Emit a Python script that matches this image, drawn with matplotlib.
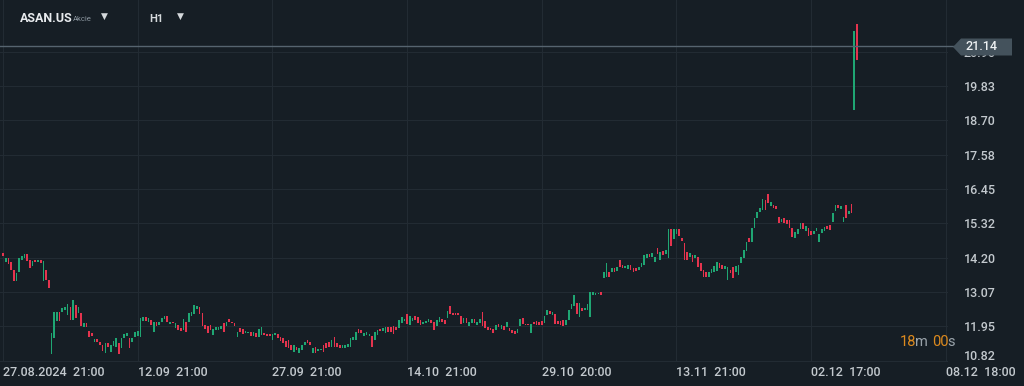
import numpy as np
import matplotlib
matplotlib.use("Agg")
import matplotlib.pyplot as plt
from matplotlib.patches import Polygon

# ASAN.US, H1 candles (open / close)
opens = [
    14.35, 14.05, 14.19, 14.05, 13.79, 13.43, 13.72, 14.12, 14.19, 14.32,
    14.12, 13.92, 14.12, 14.05, 14.12, 13.42, 13.79, 13.46, 11.04, 11.57,
    12.12, 12.42, 12.42, 12.48, 12.32, 12.58, 12.15, 12.64, 12.37, 12.38,
    11.92, 12.05, 11.79, 11.72, 11.42, 11.54, 11.43, 11.33, 11.07, 11.40,
    11.10, 11.30, 11.27, 11.40, 11.22, 11.56, 11.62, 11.56, 11.42, 11.60,
    11.63, 11.60, 12.12, 12.25, 12.10, 12.15, 11.74, 12.07, 11.97, 12.09,
    12.17, 12.28, 12.02, 12.09, 11.89, 11.99, 11.88, 11.82, 12.09, 12.09,
    12.27, 12.35, 12.52, 12.58, 12.38, 11.99, 11.96, 11.99, 11.66, 11.82,
    11.82, 11.86, 12.05, 11.96, 12.17, 12.10, 12.05, 11.60, 11.89, 11.86,
    11.72, 11.72, 11.76, 11.62, 11.72, 11.60, 11.66, 11.72, 11.70, 11.70,
    11.50, 11.67, 11.69, 11.60, 11.56, 11.47, 11.50, 11.33, 11.10, 11.27,
    11.07, 11.17, 11.32, 11.50, 11.42, 11.07, 11.27, 11.14, 11.17, 11.33,
    11.40, 11.43, 11.27, 11.60, 11.40, 11.33, 11.22, 11.24, 11.27, 11.27,
    11.50, 11.50, 11.86, 11.82, 11.62, 11.66, 11.63, 11.63, 11.50, 11.66,
    11.86, 11.79, 11.72, 11.92, 11.92, 11.96, 11.92, 11.89, 12.05, 12.12,
    12.35, 11.99, 12.12, 12.28, 12.25, 12.15, 12.02, 12.05, 12.09, 12.15,
    12.09, 11.96, 12.09, 12.19, 12.15, 12.22, 12.61, 12.38, 12.38, 12.38,
    12.28, 12.05, 12.22, 11.96, 12.05, 12.17, 11.99, 12.05, 12.42, 12.12,
    11.92, 11.89, 11.86, 11.83, 12.02, 11.87, 11.96, 11.92, 11.89, 11.82,
    11.79, 11.72, 11.96, 12.22, 12.02, 12.02, 11.72, 12.10, 12.12, 12.07,
    12.12, 12.05, 12.32, 12.45, 12.32, 12.35, 12.12, 12.12, 12.15, 11.97,
    12.15, 12.52, 12.62, 12.72, 12.25, 12.55, 12.48, 12.47, 12.25, 12.97,
    12.97, 13.00, 13.07, 13.53, 13.56, 13.72, 13.73, 13.84, 13.76, 14.12,
    13.96, 13.84, 13.82, 13.96, 13.86, 13.86, 13.79, 13.89, 13.96, 14.17,
    14.32, 14.22, 14.05, 14.51, 14.12, 14.42, 14.32, 14.19, 15.12, 14.82,
    14.97, 15.12, 14.84, 14.68, 14.38, 14.22, 14.28, 14.17, 14.22, 14.02,
    13.79, 13.72, 13.56, 13.69, 13.72, 13.76, 14.02, 13.97, 13.82, 13.46,
    13.79, 13.89, 13.72, 13.64, 14.02, 14.19, 14.42, 14.84, 14.71, 15.17,
    15.50, 15.69, 15.76, 16.09, 16.28, 15.90, 15.92, 15.90, 15.53, 15.37,
    15.50, 15.42, 15.42, 15.17, 14.84, 14.97, 15.12, 15.33, 15.07, 15.17,
    15.07, 14.97, 15.07, 14.71, 15.02, 15.07, 15.24, 15.27, 15.37, 15.72,
    15.92, 15.80, 15.37, 15.92, 15.62, 15.96, 19.04, 21.86,
]
closes = [
    14.25, 14.19, 13.99, 13.79, 13.43, 13.69, 14.17, 14.25, 14.32, 14.07,
    13.87, 14.09, 14.05, 14.12, 14.02, 14.07, 13.46, 13.20, 11.72, 12.42,
    12.40, 12.12, 12.55, 12.58, 12.67, 12.15, 12.81, 12.22, 12.58, 11.96,
    12.05, 11.92, 11.60, 11.62, 11.54, 11.42, 11.34, 11.12, 11.40, 11.27,
    11.33, 11.47, 11.56, 11.02, 11.56, 11.69, 11.72, 11.24, 11.57, 11.76,
    11.78, 12.22, 12.25, 12.12, 12.22, 11.99, 12.07, 11.96, 12.09, 12.22,
    12.28, 12.09, 12.09, 12.05, 12.05, 11.83, 11.79, 12.19, 11.76, 12.38,
    12.40, 12.64, 12.62, 12.35, 11.96, 11.86, 11.73, 11.83, 11.86, 11.92,
    11.92, 11.96, 11.76, 12.09, 12.09, 12.05, 11.94, 11.76, 11.74, 11.70,
    11.79, 11.76, 11.61, 11.76, 11.60, 11.86, 11.92, 11.67, 11.64, 11.62,
    11.69, 11.72, 11.56, 11.45, 11.40, 11.27, 11.24, 11.17, 11.33, 11.17,
    11.24, 11.33, 11.43, 11.40, 11.32, 11.24, 11.07, 11.20, 11.20, 11.10,
    11.24, 11.27, 11.50, 11.27, 11.27, 11.22, 11.33, 11.32, 11.37, 11.56,
    11.60, 11.76, 11.73, 11.72, 11.72, 11.76, 11.70, 11.27, 11.76, 11.83,
    11.79, 11.89, 11.92, 11.76, 11.76, 11.70, 11.82, 12.15, 12.25, 12.19,
    12.02, 12.28, 12.22, 12.15, 12.05, 11.99, 12.09, 12.12, 12.19, 12.05,
    11.83, 12.15, 12.25, 12.09, 12.02, 12.45, 12.35, 12.32, 12.32, 12.32,
    12.02, 12.22, 12.05, 12.10, 12.17, 12.05, 12.09, 12.17, 11.96, 11.89,
    11.83, 11.82, 11.73, 11.99, 11.92, 11.99, 11.83, 12.09, 11.79, 11.72,
    11.69, 11.84, 12.19, 12.02, 11.99, 11.97, 12.02, 12.02, 11.97, 11.99,
    11.99, 12.28, 12.48, 12.35, 12.42, 12.02, 12.02, 11.99, 11.96, 12.15,
    12.48, 12.68, 12.97, 12.35, 12.72, 12.45, 12.55, 12.67, 13.07, 13.07,
    13.04, 13.04, 12.97, 13.73, 14.02, 13.56, 13.86, 13.74, 13.89, 13.89,
    13.84, 13.92, 13.94, 13.79, 13.73, 13.76, 13.89, 14.02, 14.28, 14.32,
    14.22, 14.35, 14.22, 14.32, 14.38, 14.27, 14.45, 15.12, 14.58, 15.14,
    15.14, 14.92, 14.74, 14.12, 14.12, 14.35, 14.05, 14.28, 13.89, 13.76,
    13.56, 13.56, 13.72, 13.82, 13.92, 14.05, 13.86, 13.82, 13.92, 13.89,
    13.69, 13.53, 13.92, 13.96, 14.22, 14.45, 14.72, 14.72, 15.17, 15.50,
    15.69, 15.82, 16.12, 15.76, 15.99, 16.02, 15.83, 15.79, 15.33, 15.47,
    15.33, 15.30, 15.17, 14.87, 15.04, 15.12, 15.33, 15.14, 15.22, 14.90,
    14.94, 15.07, 15.17, 14.97, 15.14, 15.20, 15.12, 15.10, 15.66, 15.92,
    15.83, 15.89, 15.53, 15.50, 15.74, 15.67, 21.62, 20.67,
]
last_price = 21.14

# axis labels
price_ticks = [10.82, 11.95, 13.07, 14.20, 15.32, 16.45, 17.58, 18.70, 19.83, 20.96]
time_ticks = [0, 50, 100, 150, 200, 250, 300, 350]
time_labels = ["27.08.2024  21:00", "12.09  21:00", "27.09  21:00", "14.10  21:00",
               "29.10  20:00", "13.11  21:00", "02.12  17:00", "08.12  18:00"]

BG = "#161e25"
GRID = "#222b33"
UP = "#1fa673"
DOWN = "#e5344e"
TXT = "#c3c9ce"

plt.rcParams["font.family"] = ["Roboto", "DejaVu Sans"]

W, H = 1024, 386
fig = plt.figure(figsize=(W / 100, H / 100), dpi=100, facecolor=BG)
ax = fig.add_axes([0, (H - 362) / H, 948 / W, 362 / H], facecolor=BG)

o = np.array(opens)
c = np.array(closes)
idx = np.arange(len(o))
colors = np.where(c >= o, UP, DOWN)
ax.bar(idx, c - o, bottom=o, width=0.62, color=colors, linewidth=0, zorder=3)

ax.set_xlim(-1.11, 350.8)
ax.set_ylim(10.771, 22.651)

ax.set_xticks(time_ticks)
ax.set_xticklabels(time_labels)
ax.set_yticks(price_ticks)
# lowest price label is pushed up above the time axis, drawn separately below
ax.set_yticklabels([""] + [f"{v:.2f}" for v in price_ticks[1:]])
ax.grid(True, color=GRID, linewidth=0.8, zorder=0)
for s in ax.spines.values():
    s.set_visible(False)
ax.tick_params(axis="x", length=0, pad=3, labelsize=9, labelcolor=TXT)
ax.tick_params(axis="y", length=0, pad=11.5, labelsize=9, labelcolor=TXT,
               left=False, labelleft=False, right=True, labelright=True)
for lab in ax.get_xticklabels():
    lab.set_ha("left")
    lab.set_fontweight("medium")
for lab in ax.get_yticklabels():
    lab.set_fontweight("medium")
fig.text(964 / W, 1 - 357 / H, f"{price_ticks[0]:.2f}", color=TXT, fontsize=9,
         fontweight="medium", va="center", ha="left")

# current price line + tag
ax.axhline(last_price, xmin=0, xmax=955 / 948, color="#56646f", lw=1, clip_on=False, zorder=4)
yp = H - 47
tag = Polygon([(953, yp), (961, yp + 8.5), (1012, yp + 8.5), (1012, yp - 8.5), (961, yp - 8.5)],
              closed=True, transform=None, facecolor="#44525c", edgecolor="none", zorder=10)
fig.patches.append(tag)
fig.text(965 / W, yp / H, f"{last_price:.2f}", color="#eef1f3", fontsize=9,
         fontweight="medium", va="center", ha="left", zorder=11)

# header
fig.text(20 / W, 1 - 18 / H, "ASAN.US", color="#e8ebee", fontsize=9, fontweight="bold", va="center")
fig.text(73 / W, 1 - 19 / H, "Akcie", color="#8c97a0", fontsize=5.5, va="center")
fig.text(101 / W, 1 - 16 / H, "▼", color="#d5d9dc", fontsize=6.5, va="center",
         family=["DejaVu Sans"])
fig.text(149 / W, 1 - 19 / H, "H1", color="#d5d9dc", fontsize=8, fontweight="bold", va="center")
fig.text(177 / W, 1 - 16 / H, "▼", color="#d5d9dc", fontsize=6.5, va="center",
         family=["DejaVu Sans"])

# candle countdown
ORANGE = "#dd8a1e"
yc = 1 - 342 / H
fig.text(900 / W, yc, "18", color=ORANGE, fontsize=10.5, va="center")
fig.text(915 / W, yc, "m", color="#9aa3aa", fontsize=10.5, va="center")
fig.text(932 / W, yc, "00", color=ORANGE, fontsize=10.5, va="center")
fig.text(947 / W, yc, "s", color="#9aa3aa", fontsize=10.5, va="center")

fig.savefig("out.png", dpi=100, facecolor=BG)
